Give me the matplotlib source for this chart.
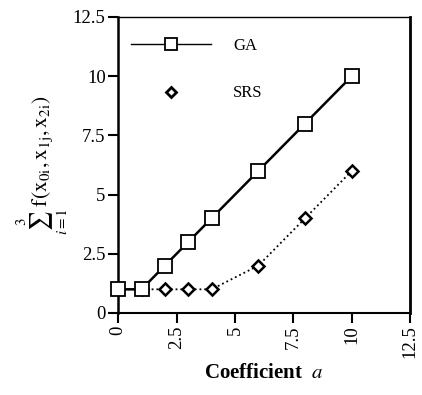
import matplotlib
matplotlib.use("Agg")
import matplotlib.pyplot as plt

# values
coef = [0, 1, 2, 3, 4, 6, 8, 10]
ga_vals = [1, 1, 2, 3, 4, 6, 8, 10]
srs_vals = [1, 1, 1, 1, 1, 2, 4, 6]
tick_vals = [0, 2.5, 5, 7.5, 10, 12.5]
tick_labels = ["0", "2.5", "5", "7.5", "10", "12.5"]

plt.rcParams["font.family"] = "Liberation Serif"
plt.rcParams["mathtext.fontset"] = "stix"

fig = plt.figure(figsize=(4.22, 3.95), dpi=100)
ax = fig.add_axes([0.280, 0.2076, 0.692, 0.7494])

ax.plot(coef, srs_vals, linestyle=":", color="black", lw=1.3,
        marker="D", markersize=6.2, markerfacecolor="white",
        markeredgewidth=1.8, markeredgecolor="black", clip_on=False,
        zorder=3)
ax.plot(coef, ga_vals, linestyle="-", color="black", lw=1.8,
        marker="s", markersize=9.8, markerfacecolor="white",
        markeredgewidth=1.3, markeredgecolor="black", clip_on=False,
        zorder=4)

# legend handles (GA with line, SRS marker only)
h_ga, = ax.plot([], [], "-", color="black", lw=1.0, marker="s",
                markersize=9, markerfacecolor="white", markeredgewidth=1.3,
                markeredgecolor="black")
h_srs, = ax.plot([], [], linestyle="none", marker="D", markersize=5.5,
                 markerfacecolor="white", markeredgewidth=2,
                 markeredgecolor="black")
ax.legend([h_ga, h_srs], ["GA", "SRS"], loc="upper left", frameon=False,
          fontsize=12, handlelength=4.8, handletextpad=1.3,
          labelspacing=1.9, borderaxespad=0.4, bbox_to_anchor=(0.0, 0.975))

ax.set_xlim(0, 12.5)
ax.set_ylim(0, 12.5)
ax.set_xticks(tick_vals)
ax.set_xticklabels(tick_labels, rotation=90, fontsize=13.5)
ax.set_yticks(tick_vals)
ax.set_yticklabels(tick_labels, fontsize=13.5)
ax.tick_params(direction="out", length=7, width=1.5, pad=2)

ax.spines["left"].set_linewidth(1.8)
ax.spines["bottom"].set_linewidth(1.5)
ax.spines["right"].set_linewidth(2.0)
ax.spines["top"].set_linewidth(1.0)

ax.set_xlabel(r"Coefficient  $\mathit{a}$", fontsize=15, fontweight="bold",
              labelpad=3)
ax.set_ylabel(r"$\sum_{i=1}^{3}\, \mathrm{f(x_{0i}, x_{1j}, x_{2i})}$",
              fontsize=15.5, labelpad=2)

fig.savefig("out.png", dpi=100)
